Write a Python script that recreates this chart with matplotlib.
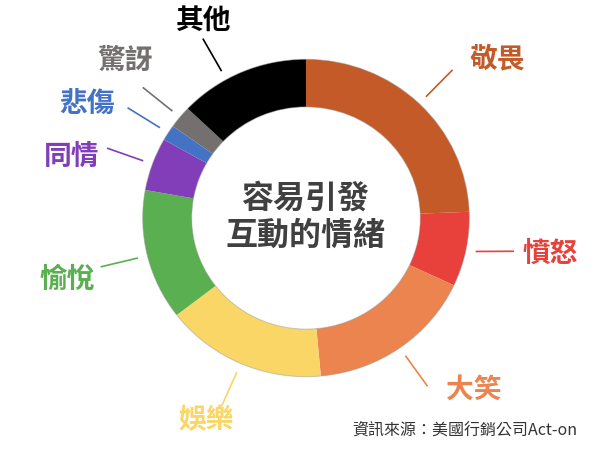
import numpy as np
import matplotlib.pyplot as plt
from matplotlib.patches import Circle

plt.rcParams['font.family'] = ['Noto Sans CJK TC', 'DejaVu Sans']

# share of each emotion (%), clockwise from 12 o'clock
emotions = ['敬畏', '憤怒', '大笑', '娛樂', '愉悅', '同情', '悲傷', '驚訝', '其他']
shares = [24.4, 7.6, 16.6, 16.0, 13.3, 5.4, 1.6, 2.3, 12.9]
colors = ['#C35A28', '#E8403A', '#EC844F', '#F9D665', '#5AAF50',
          '#813EB8', '#4472C4', '#747070', '#000000']

title_lines = ['容易引發', '互動的情緒']
source = '資訊來源：美國行銷公司Act-on'

# label text centres, in pixels from the top-left corner
label_xy = [(497, 59), (550, 254), (474, 390), (206, 420), (67, 280),
            (72, 157), (87, 104), (125, 61), (204, 21)]
# leader line tweaks (deg): move along the ring / turn about its start
leader_shift = [0, 0, 0, 0, 0, 0, 0, 0, 6]
leader_turn = [0, 11.7, 0, 0, 0, 0, 0, 0, 0]

W, H = 600, 455
cx, cy = 306, 218       # ring centre (px)
rx, ry = 163.3, 158.7   # outer radius (px), image is a bit stretched

fig = plt.figure(figsize=(6, 4.55), dpi=100)
ax = fig.add_axes([0, 0, 1, 1])
wedges, _ = ax.pie(shares, colors=colors, startangle=90, counterclock=False,
                   radius=1.0, wedgeprops=dict(width=0.3, linewidth=0))
ax.set_aspect('auto')
ax.set_xlim(-cx / rx, (W - cx) / rx)
ax.set_ylim(-(H - cy) / ry, cy / ry)
ax.axis('off')

# faint rim round the ring
ax.add_patch(Circle((0, 0), 1.0, fill=False, ec='#999999', lw=0.7, alpha=0.5))
ax.add_patch(Circle((0, 0), 0.7, fill=False, ec='#999999', lw=0.7, alpha=0.5))

def to_data(x, y):
    return (x - cx) / rx, (cy - y) / ry

# leader lines and labels
r1, r2 = 1.065, 1.29
for i, w in enumerate(wedges):
    col = colors[i]
    a = np.deg2rad((w.theta1 + w.theta2) / 2 + leader_shift[i])
    d = a + np.deg2rad(leader_turn[i])
    x0, y0 = r1 * np.cos(a), r1 * np.sin(a)
    x1, y1 = x0 + (r2 - r1) * np.cos(d), y0 + (r2 - r1) * np.sin(d)
    ax.plot([x0, x1], [y0, y1], color=col, lw=1.2)
    tx, ty = to_data(*label_xy[i])
    ax.text(tx, ty, emotions[i], color=col, fontsize=20, fontweight='bold',
            ha='center', va='center')

# centre text
for line, ly in zip(title_lines, [199, 236]):
    tx, ty = to_data(305, ly)
    ax.text(tx, ty, line, color='#404040', fontsize=23, fontweight='bold',
            ha='center', va='center')

sx, sy = to_data(577, 430)
ax.text(sx, sy, source, color='#333333', fontsize=11.5, ha='right', va='center')

fig.savefig('out.png', dpi=100)
